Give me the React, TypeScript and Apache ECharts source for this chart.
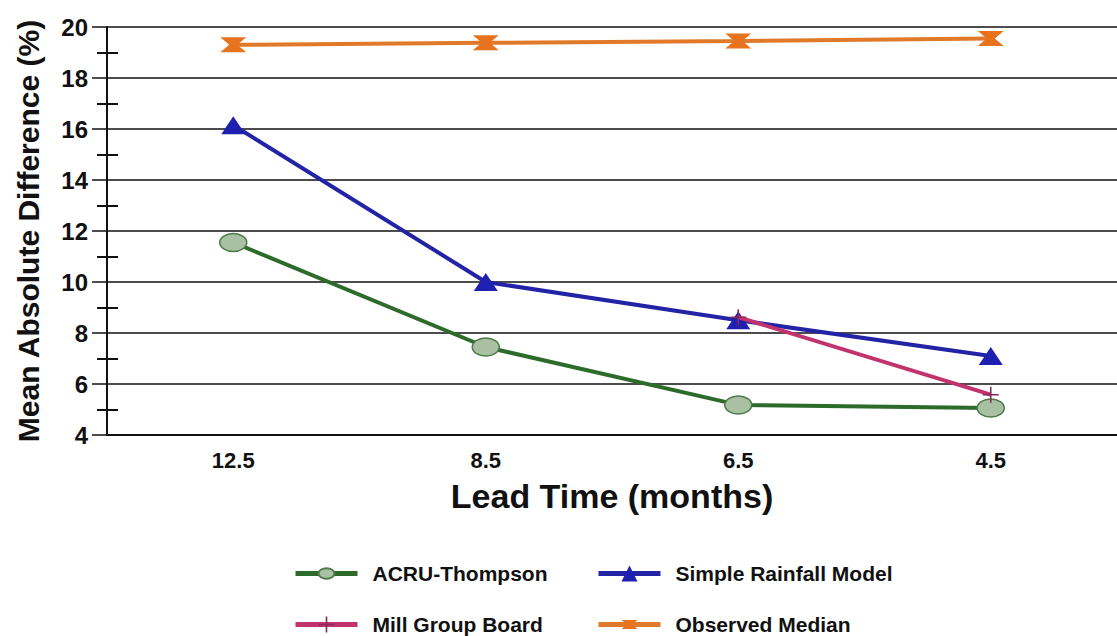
import React, { useEffect, useRef } from "react";
import * as echarts from "echarts";

const categories = ["12.5", "8.5", "6.5", "4.5"];
const acruThompson = [11.55, 7.45, 5.18, 5.06];
const simpleRainfall = [16.15, 10.0, 8.5, 7.1];
const millGroupBoard = [null, null, 8.62, 5.58];
const observedMedian = [19.3, 19.38, 19.45, 19.55];

const FONT = "'Liberation Sans', Arial, sans-serif";
const hourglass = "path://M0,0 L0,0 M26,26 L26,26 M0,5.5 L26,5.5 L17,13 L26,20.5 L0,20.5 L9,13 Z";
const ellipse = "path://M0,0 L0,0 M27,27 L27,27 M0,13.5 A13.5,9 0 1,0 27,13.5 A13.5,9 0 1,0 0,13.5 Z";
const plus = "path://M9,0 L11,0 L11,9 L20,9 L20,11 L11,11 L11,20 L9,20 L9,11 L0,11 L0,9 L9,9 Z";

export default function App() {
  const ref = useRef<HTMLDivElement>(null);
  useEffect(() => {
    if (!ref.current) return;
    const chart = echarts.init(ref.current, null, { renderer: "svg" });
    const legendText = {
      fontFamily: FONT,
      fontWeight: "bold",
      fontSize: 21,
      color: "#111",
      padding: [0, 0, 0, 10],
    };
    const mkLegend = (name: string, left: number, top: number) => ({
      left,
      top,
      itemWidth: 62,
      itemHeight: 20,
      data: [name],
      textStyle: legendText,
      lineStyle: { width: 5 },
    });
    chart.setOption({
      animation: false,
      backgroundColor: "#fff",
      grid: { left: 107, top: 27, width: 1024, height: 408 },
      legend: [
        mkLegend("ACRU-Thompson", 288, 558),
        mkLegend("Mill Group Board", 288, 609),
        mkLegend("Simple Rainfall Model", 591, 558),
        mkLegend("Observed Median", 591, 609),
      ],
      xAxis: [
        {
          type: "category",
          data: categories,
          boundaryGap: true,
          axisLine: { lineStyle: { color: "#111", width: 2 } },
          axisTick: { alignWithLabel: true, length: 9, lineStyle: { color: "#111", width: 2 } },
          axisLabel: { fontFamily: FONT, fontWeight: "bold", fontSize: 22, color: "#111", margin: 14 },
          name: "Lead Time (months)",
          nameLocation: "middle",
          nameGap: 44,
          nameTextStyle: { fontFamily: FONT, fontWeight: "bold", fontSize: 34, color: "#111" },
          splitLine: { show: false },
        },
        {
          type: "category",
          data: categories,
          position: "bottom",
          boundaryGap: true,
          axisLine: { show: false },
          axisTick: { alignWithLabel: true, inside: true, length: 9, lineStyle: { color: "#111", width: 2 } },
          axisLabel: { show: false },
        },
      ],
      yAxis: [
        {
          type: "value",
          min: 4,
          max: 20,
          interval: 2,
          axisLine: { show: true, lineStyle: { color: "#111", width: 2 } },
          axisTick: { show: true, length: 15, lineStyle: { color: "#111", width: 1.5 } },
          minorTick: { show: true, splitNumber: 2, length: 10, lineStyle: { color: "#111", width: 2 } },
          axisLabel: { fontFamily: FONT, fontWeight: "bold", fontSize: 24, color: "#111", margin: 19 },
          splitLine: { show: true, lineStyle: { color: "#111", width: 1.6 } },
          name: "Mean Absolute Difference (%)",
          nameLocation: "middle",
          nameGap: 64,
          nameTextStyle: { fontFamily: FONT, fontWeight: "bold", fontSize: 30, color: "#111" },
        },
        {
          type: "value",
          min: 4,
          max: 20,
          interval: 2,
          position: "left",
          axisLine: { show: false },
          axisTick: { show: false, inside: true },
          minorTick: { show: true, splitNumber: 2, length: 11, lineStyle: { color: "#111", width: 2 } },
          axisLabel: { show: false },
          splitLine: { show: false },
        },
      ],
      series: [
        {
          name: "ACRU-Thompson",
          type: "line",
          data: acruThompson,
          symbol: ellipse,
          symbolSize: 27,
          lineStyle: { color: "#2d6b2a", width: 4 },
          itemStyle: { color: "#a9c0a3", borderColor: "#4d7a48", borderWidth: 1.5 },
          z: 3,
        },
        {
          name: "Simple Rainfall Model",
          type: "line",
          data: simpleRainfall,
          symbol: "triangle",
          symbolSize: [24, 18],
          lineStyle: { color: "#2323a6", width: 4 },
          itemStyle: { color: "#1f1fb0" },
          z: 3,
        },
        {
          name: "Mill Group Board",
          type: "line",
          data: millGroupBoard,
          symbol: plus,
          symbolSize: 16,
          lineStyle: { color: "#c2336d", width: 4 },
          itemStyle: { color: "#8a2a55" },
          z: 4,
        },
        {
          name: "Observed Median",
          type: "line",
          data: observedMedian,
          symbol: hourglass,
          symbolSize: 26,
          lineStyle: { color: "#e07a2a", width: 4 },
          itemStyle: { color: "#e8731e" },
          z: 3,
        },
      ],
    });
    return () => chart.dispose();
  }, []);
  return (
    <div
      ref={ref}
      style={{ position: "fixed", left: 0, top: 0, width: 1117, height: 636 }}
    />
  );
}
